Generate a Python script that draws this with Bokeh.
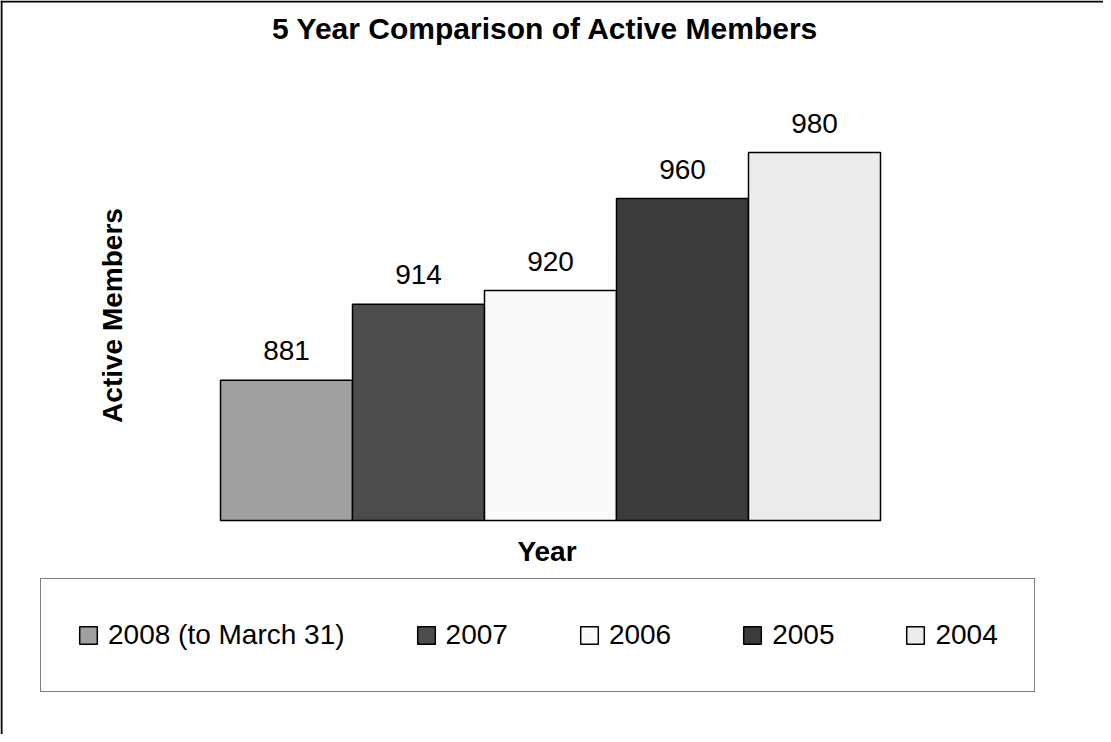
from math import pi
from bokeh.plotting import figure
from bokeh.models import ColumnDataSource, Range1d, Label, Legend, LegendItem, Span
from bokeh.core.properties import value
from bokeh.embed import file_html
from bokeh.resources import INLINE

# ---- data ----
years = ["2008 (to March 31)", "2007", "2006", "2005", "2004"]
members = [881, 914, 920, 960, 980]
bar_colors = ["#a0a0a0", "#4c4c4c", "#fafafa", "#3b3b3b", "#ececec"]
title_text = "5 Year Comparison of Active Members"
x_title = "Year"
y_title = "Active Members"
y_axis_min = 820          # value axis minimum (bars start here)

# ---- layout (pixels) ----
W, H = 1103, 734
MARGIN = 8                # page margin
PLOT_L, PLOT_R = 220, 880 # plot area in figure px
PLOT_B = 520              # baseline in figure px
PXU_Y = 2.3               # px per member
PXU_X = (PLOT_R - PLOT_L) / len(years)
TXT_SHIFT = 10            # compensation for text baseline rendering

def dx(page_x):
    return (page_x - MARGIN - PLOT_L) / PXU_X

def dy(page_y):
    return y_axis_min + (PLOT_B - (page_y - MARGIN)) / PXU_Y

FONT = "Liberation Sans"

p = figure(width=W, height=H, output_backend="svg", toolbar_location=None,
           x_axis_location=None, y_axis_location=None, min_border=0,
           x_range=Range1d(-PLOT_L / PXU_X, (W - PLOT_L) / PXU_X),
           y_range=Range1d(y_axis_min - (H - PLOT_B) / PXU_Y, y_axis_min + PLOT_B / PXU_Y))
p.grid.visible = False
p.outline_line_color = None
p.background_fill_color = "white"
p.border_fill_color = "white"

label_gap = (19.5 + TXT_SHIFT) / PXU_Y
src = ColumnDataSource(dict(
    x=[i + 0.5 for i in range(len(years))],
    top=members,
    color=bar_colors,
    year=years,
    label_y=[m + label_gap for m in members],
    txt=[str(m) for m in members],
))

bars = p.vbar(x="x", top="top", bottom=y_axis_min, width=1.0, source=src,
              fill_color="color", line_color="black", line_width=1.5)

p.text(x="x", y="label_y", text="txt", source=src, text_align="center",
       text_baseline="alphabetic", text_font=value(FONT),
       text_font_size=value("28px"), text_color="black")

# outer frame lines (left & top)
p.add_layout(Span(location=dx(MARGIN + 1), dimension="height", line_color="black", line_width=2))
p.add_layout(Span(location=dy(MARGIN + 1), dimension="width", line_color="black", line_width=2))

# titles
p.add_layout(Label(x=dx(553), y=dy(46 - TXT_SHIFT), text=title_text, text_align="center",
                   text_baseline="alphabetic", text_font=FONT, text_font_size="30px",
                   text_font_style="bold", text_color="black"))
p.add_layout(Label(x=dx(554.5), y=dy(569 - TXT_SHIFT), text=x_title, text_align="center",
                   text_baseline="alphabetic", text_font=FONT, text_font_size="28px",
                   text_font_style="bold", text_color="black"))
p.add_layout(Label(x=dx(130 - TXT_SHIFT), y=dy(323), text=y_title, angle=pi / 2,
                   text_align="center", text_baseline="alphabetic", text_font=FONT,
                   text_font_size="28px", text_font_style="bold", text_color="black"))

items = [LegendItem(label=y, renderers=[bars], index=i) for i, y in enumerate(years)]
legend = Legend(items=items, orientation="horizontal", location=(40, 42), margin=0,
                padding=36, spacing=70, glyph_width=22, glyph_height=22,
                label_standoff=9, label_height=40, label_text_font=FONT,
                label_text_font_size="28px", label_text_color="black",
                border_line_color="black", border_line_width=1.5,
                background_fill_color="white", background_fill_alpha=1.0)
p.add_layout(legend)

open("out.html", "w").write(file_html(p, INLINE))
